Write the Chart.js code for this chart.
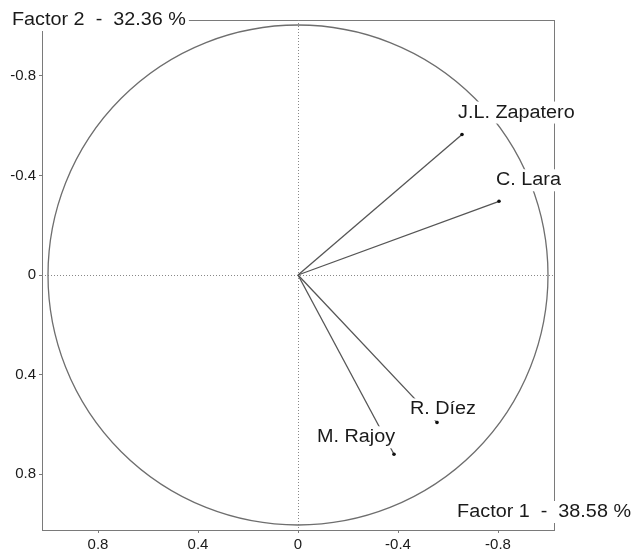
<!DOCTYPE html>
<html>
<head>
<meta charset="utf-8">
<script src="https://cdn.jsdelivr.net/npm/chart.js@4.4.0/dist/chart.umd.min.js"></script>
<style>
  html, body { margin: 0; padding: 0; background: #fff; }
  canvas { display: block; }
</style>
</head>
<body>
<canvas id="myChart" width="633" height="551"></canvas>
<script>
// variables (loadings on the two factors)
var categories = ['J.L. Zapatero', 'C. Lara', 'R. Díez', 'M. Rajoy'];
var factor1 = [-0.656, -0.804, -0.556, -0.384];
var factor2 = [-0.564, -0.296, 0.592, 0.72];
var tickValues = [-0.8, -0.4, 0, 0.4, 0.8];
var axisTitles = ['Factor 1  -  38.58 %', 'Factor 2  -  32.36 %'];

// label offset from the arrow tip, in px
var labelOffsets = [[-4, -22], [-3, -21], [-27, -13], [-77, -17]];

var textColor = '#1a1a1a';
var labelFont = '18px "Liberation Sans", Arial, sans-serif';
var stretch = 1.1; // the scanned text is a bit wider than Arial

function boxText(ctx, txt, x, y, align) {
    ctx.font = labelFont;
    var w = ctx.measureText(txt).width * stretch;
    var left = align == 'right' ? x - w : x;
    ctx.fillStyle = '#fff';
    ctx.fillRect(left - 3, y - 11, w + 6, 22);
    ctx.save();
    ctx.translate(left, y);
    ctx.scale(stretch, 1);
    ctx.fillStyle = textColor;
    ctx.textAlign = 'left';
    ctx.textBaseline = 'middle';
    ctx.fillText(txt, 0, 0);
    ctx.restore();
}

var circlePlugin = {
    id: 'circlePlugin',
    beforeDatasetsDraw: function (chart) {
        var ctx = chart.ctx;
        var xs = chart.scales.x, ys = chart.scales.y;
        var a = chart.chartArea;
        var cx = xs.getPixelForValue(0), cy = ys.getPixelForValue(0);
        var r = Math.abs(xs.getPixelForValue(1) - cx);
        ctx.save();
        // frame
        ctx.strokeStyle = '#7a7a7a';
        ctx.lineWidth = 1;
        ctx.strokeRect(a.left + 0.5, a.top + 0.5, a.right - a.left, a.bottom - a.top);
        // dotted axes
        ctx.strokeStyle = '#888';
        ctx.setLineDash([1, 2]);
        ctx.beginPath();
        ctx.moveTo(Math.round(cx) + 0.5, a.top);
        ctx.lineTo(Math.round(cx) + 0.5, a.bottom);
        ctx.moveTo(a.left, Math.round(cy) + 0.5);
        ctx.lineTo(a.right, Math.round(cy) + 0.5);
        ctx.stroke();
        ctx.setLineDash([]);
        // correlation circle
        ctx.strokeStyle = '#6e6e6e';
        ctx.lineWidth = 1.3;
        ctx.beginPath();
        ctx.arc(cx, cy, r, 0, Math.PI * 2);
        ctx.stroke();
        ctx.restore();
    },
    afterDatasetsDraw: function (chart) {
        var ctx = chart.ctx;
        var xs = chart.scales.x, ys = chart.scales.y;
        var a = chart.chartArea;
        ctx.save();
        for (var i = 0; i < categories.length; i++) {
            var px = xs.getPixelForValue(factor1[i]);
            var py = ys.getPixelForValue(factor2[i]);
            boxText(ctx, categories[i], px + labelOffsets[i][0], py + labelOffsets[i][1], 'left');
        }
        // axis titles
        boxText(ctx, axisTitles[1], 12, a.top, 'left');
        boxText(ctx, axisTitles[0], 631, a.bottom - 18, 'right');
        ctx.restore();
    }
};

var datasets = [];
for (var i = 0; i < categories.length; i++) {
    datasets.push({
        label: categories[i],
        data: [{x: 0, y: 0}, {x: factor1[i], y: factor2[i]}],
        showLine: true,
        borderColor: '#555',
        borderWidth: 1.3,
        pointRadius: [0, 1.8],
        pointBackgroundColor: '#111',
        pointBorderWidth: 0
    });
}

function axisOpts(isX) {
    return {
        type: 'linear',
        reverse: true,
        min: -1.024,
        max: 1.024,
        afterBuildTicks: function (s) {
            s.ticks = tickValues.map(function (v) { return {value: v}; });
        },
        afterFit: function (s) {
            if (isX) s.height = 21; else s.width = 42;
        },
        ticks: {
            autoSkip: false,
            maxRotation: 0,
            padding: 3,
            color: textColor,
            font: {family: '"Liberation Sans", Arial, sans-serif', size: 15},
            callback: function (v) { return String(v); }
        },
        grid: {drawOnChartArea: false, drawTicks: true, tickLength: 3, color: '#7a7a7a'},
        border: {display: true, color: '#7a7a7a'}
    };
}

var ctx = document.getElementById('myChart').getContext('2d');
var myChart = new Chart(ctx, {
    type: 'scatter',
    data: {datasets: datasets},
    options: {
        responsive: false,
        animation: false,
        devicePixelRatio: 1,
        layout: {padding: {left: 0, right: 79, top: 20, bottom: 0}},
        plugins: {legend: {display: false}, tooltip: {enabled: false}},
        scales: {x: axisOpts(true), y: axisOpts(false)}
    },
    plugins: [circlePlugin]
});
</script>
</body>
</html>
